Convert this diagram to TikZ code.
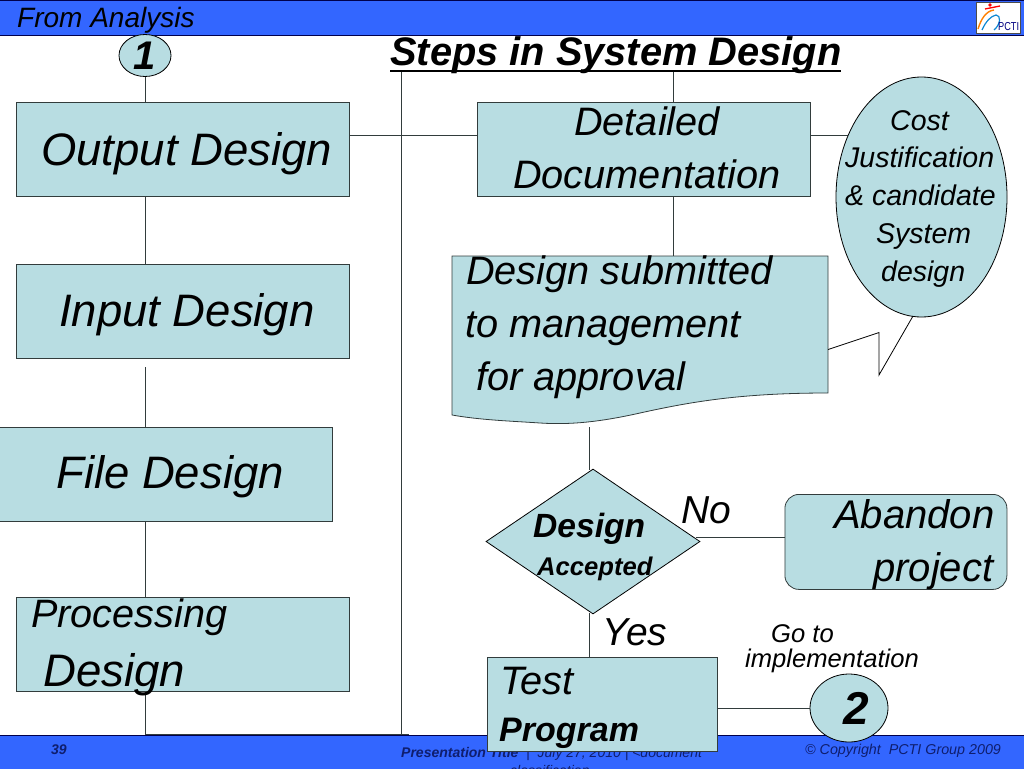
\documentclass[tikz,border=0pt]{standalone}
\usepackage{fontspec}
\setmainfont{Liberation Sans}
\usetikzlibrary{shapes.geometric}
\definecolor{boxfill}{RGB}{184,221,226}
\definecolor{barblue}{RGB}{51,102,255}
\definecolor{edge}{RGB}{50,60,60}
\definecolor{footdark}{RGB}{15,30,110}
\newcommand{\fs}[1]{\fontsize{#1}{#1}\selectfont\itshape}
\tikzset{
 x=1pt,y=-1pt,
 flowbox/.style={draw=edge,line width=.8pt,fill=boxfill,inner sep=0pt,anchor=north west},
 link/.style={draw=edge,line width=.8pt},
 txt/.style={inner sep=0pt,anchor=base west,text=black},
 bar/.style={fill=barblue,draw=black!70!blue,line width=.8pt},
 round/.style={ellipse,draw=black,line width=.8pt,fill=boxfill,inner sep=0pt}
}
\begin{document}
\begin{tikzpicture}
\useasboundingbox (0,0) rectangle (1024,768);
\clip (0,0) rectangle (1024,768);
% bars
\path[bar] (-2,0) rectangle (1026,35);
\path[bar] (-2,735) rectangle (1026,770);
\node[txt] (from) at (17,28) {\fs{28}From Analysis};
\node[draw=black!70,fill=white,inner sep=0pt,minimum width=44pt,minimum height=31pt,anchor=north west] (logo) at (975.5,2) {};
\draw[orange,line width=1.4pt] (978,29) .. controls (981,19) and (986,11) .. (994,10);
\draw[cyan!70!blue,line width=1.2pt] (982,30) .. controls (986,21) and (991,16) .. (996,15) .. controls (1001,15) and (1001,24) .. (994,30);
\draw[red,line width=1.3pt] (985,9) -- (1000,6);
\fill[red] (990,5) circle (1.8);
\node[txt] (pcti) at (998,30.5) {\fontsize{11.5}{11.5}\selectfont\addfontfeature{FakeStretch=.8}\textcolor{blue!50!black}{PCTI}};
% nodes
\node[flowbox,minimum width=333pt,minimum height=94pt] (out) at (16,102) {};
\node[flowbox,minimum width=333pt,minimum height=94pt] (inp) at (16,264) {};
\node[flowbox,minimum width=333pt,minimum height=94pt] (fil) at (-1,426.5) {};
\node[flowbox,minimum width=333pt,minimum height=94pt] (pro) at (16,597) {};
\node[flowbox,minimum width=333pt,minimum height=94pt] (det) at (477,102) {};
\node[flowbox,rounded corners=14pt,minimum width=222pt,minimum height=95pt] (aba) at (784.5,494) {};
\node[diamond,draw=black,line width=.8pt,fill=boxfill,inner sep=0pt,minimum width=214pt,minimum height=145pt] (dia) at (593,541.5) {};
\node[round,minimum width=52pt,minimum height=42pt] (one) at (145,55.5) {};
\coordinate (c1) at (145,367);
\coordinate (c2) at (145,734);
\coordinate (c3) at (409,734);
\coordinate (c4) at (401,72);
\coordinate (c5) at (401,734);
\coordinate (c6) at (673,72);
\coordinate (r1) at (0,135);
\coordinate (r2) at (0,537);
% connectors
\path[link] (one) -- (out.north -| one);
\path[link] (145,196) -- (145,264);
\path[link] (c1) -- (145,427);
\path[link] (145,521) -- (145,597);
\path[link] (145,691) -- (c2) -- (c3);
\path[link] (c4) -- (c5);
\path[link] (out.east |- r1) -- (det.west |- r1);
\path[link] (c6) -- (673,102);
\path[link] (673,196) -- (673,256);
\path[link] (589,427) -- (589,470);
\path[link] (589,613) -- (589,657);
\path[link] (696,537) -- (aba.west |- r2);
\path[link] (810,135) -- (848,135);
% document shape
\path[flowbox] (452,256) -- (828,256) -- (828,393)
  .. controls (740,393) and (690,402) .. (640,413)
  .. controls (600,422) and (570,425) .. (540,423)
  .. controls (510,421) and (480,420) .. (452,415) -- cycle;
% callout
\node[round,minimum width=171pt,minimum height=240pt] (cost) at (921.5,197) {};
\coordinate (p1) at (828,349.5);
\coordinate (p2) at (879,332.5);
\coordinate (p3) at (879,375);
\coordinate (p4) at (913,316);
\draw[black,line width=.8pt] (p1) -- (p2) -- (p3) -- (p4);
% footer text under the test box
\node[txt,text=footdark] at (401,757) {\fs{14}{\bfseries Presentation Title}\ \ |\ \ July 27, 2010 | <document};
\node[txt,text=footdark] at (510,775) {\fs{14}classification};
% test + 2
\node[flowbox,minimum width=230pt,minimum height=94pt] (tst) at (486.5,657) {};
\node[round,minimum width=78pt,minimum height=68pt] (two) at (849,708) {};
\path[link] (tst.east |- two) -- (two);
% text
\node[txt] at (133,70) {\fs{40}\bfseries 1};
\node[txt] (ttl) at (390,65) {\fs{39.8}\bfseries Steps in System Design};
\draw[black,line width=2.6pt] (390,71) -- (841,71);
\node[txt] at (41,165) {\fs{45.5}Output Design};
\node[txt] at (59,326) {\fs{45.5}Input Design};
\node[txt] at (56,488) {\fs{45.5}File Design};
\node[txt] at (31,627) {\fs{39.6}Processing};
\node[txt] at (43,686) {\fs{45.6}Design};
\node[txt] at (574,135) {\fs{39.7}Detailed};
\node[txt] at (513,188) {\fs{39.7}Documentation};
\node[txt] at (466,284) {\fs{39.7}Design submitted};
\node[txt] at (465,337) {\fs{39.7}to management};
\node[txt] at (476,390) {\fs{39.7}for approval};
\node[txt] at (890,130) {\fs{28.5}Cost};
\node[txt] at (845,167) {\fs{28.5}Justification};
\node[txt] at (845,205) {\fs{28.5}\& candidate};
\node[txt] at (876,243) {\fs{28.5}System};
\node[txt] at (881,281) {\fs{28.5}design};
\node[txt] at (533,537) {\fs{33.6}\bfseries Design};
\node[txt] at (537,575) {\fs{25.6}\bfseries Accepted};
\node[txt] at (681,523) {\fs{39}No};
\node[txt] at (602,645) {\fs{39}Yes};
\node[txt] at (834,528) {\fs{40}Abandon};
\node[txt] at (873,581) {\fs{40}project};
\node[txt] at (771,642) {\fs{25.6}Go to};
\node[txt] at (745,667) {\fs{25.6}implementation};
\node[txt] at (500,694) {\fs{39.7}Test};
\node[txt] at (499,741) {\fs{34}\bfseries Program};
\node[txt] at (843,724) {\fs{46}\bfseries 2};
\node[txt,text=footdark] at (51,754) {\fs{14}\bfseries 39};
\node[txt,text=footdark] at (805,754) {\fs{14.3}© Copyright\ \ PCTI Group 2009};
\end{tikzpicture}
\end{document}
